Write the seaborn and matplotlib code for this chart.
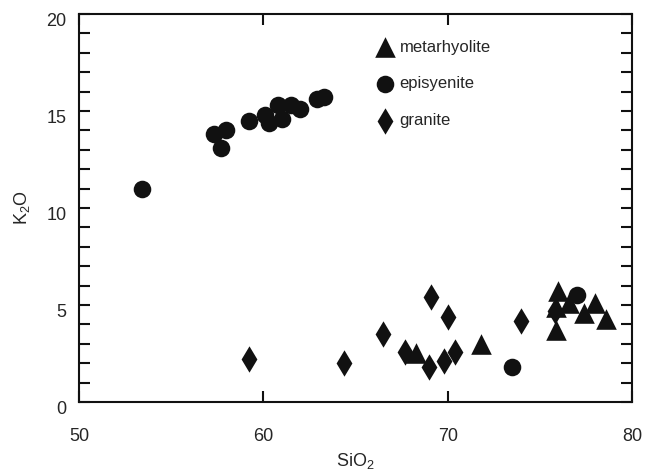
import numpy as np
import pandas as pd
import matplotlib
matplotlib.use('Agg')
import matplotlib.pyplot as plt
from matplotlib.ticker import MultipleLocator
from matplotlib.transforms import ScaledTranslation
import seaborn as sns

# values
meta_sio2 = [68.3, 71.8, 76.0, 75.9, 76.6, 77.4, 78.0, 78.6, 75.9]
meta_k2o = [2.5, 3.0, 5.7, 3.7, 5.1, 4.6, 5.1, 4.3, 4.9]

epi_sio2 = [53.4, 57.3, 58.0, 57.7, 59.2, 60.1, 60.3, 60.8, 61.0, 61.5, 62.0, 62.9, 63.3, 73.5, 77.0]
epi_k2o = [11.0, 13.8, 14.0, 13.1, 14.5, 14.8, 14.4, 15.3, 14.6, 15.3, 15.1, 15.6, 15.7, 1.8, 5.5]

gran_sio2 = [59.2, 64.4, 66.5, 67.7, 69.1, 69.0, 69.8, 70.0, 70.4, 74.0, 75.8]
gran_k2o = [2.2, 2.0, 3.5, 2.6, 5.4, 1.8, 2.1, 4.4, 2.6, 4.2, 4.7]

rock_order = ['metarhyolite', 'episyenite', 'granite']

df = pd.concat([
    pd.DataFrame({'SiO2': meta_sio2, 'K2O': meta_k2o, 'rock': 'metarhyolite'}),
    pd.DataFrame({'SiO2': epi_sio2, 'K2O': epi_k2o, 'rock': 'episyenite'}),
    pd.DataFrame({'SiO2': gran_sio2, 'K2O': gran_k2o, 'rock': 'granite'}),
])

sns.set_style('ticks')
plt.rcParams['font.family'] = ['Liberation Sans', 'DejaVu Sans']
plt.rcParams['mathtext.fontset'] = 'custom'
plt.rcParams['mathtext.rm'] = 'Liberation Sans'
plt.rcParams['mathtext.it'] = 'Liberation Sans:italic'

fig = plt.figure(figsize=(6.54, 4.71), dpi=100)
ax = fig.add_axes([0.1208, 0.1465, 0.8456, 0.8238])

mk = {'metarhyolite': '^', 'episyenite': 'o', 'granite': 'd'}
sz = {'metarhyolite': 220, 'episyenite': 160, 'granite': 180}
# granite drawn first, triangles last
for rock in ['granite', 'episyenite', 'metarhyolite']:
    sub = df[df.rock == rock]
    sns.scatterplot(x=sub.SiO2, y=sub.K2O, marker=mk[rock], s=sz[rock],
                    color='#111111', linewidth=0, label=rock, ax=ax, zorder=3)

handles, labels = ax.get_legend_handles_labels()
hmap = dict(zip(labels, handles))
ax.legend([hmap[r] for r in rock_order], rock_order, loc='upper left',
          bbox_to_anchor=(0.515, 0.955), frameon=False, fontsize=12,
          labelspacing=1.3, handletextpad=0.05, borderpad=0, handlelength=1.6)

ax.set_xlim(50, 80)
ax.set_ylim(0, 20)
ax.set_xticks([50, 60, 70, 80])
ax.set_yticks([0, 5, 10, 15, 20])
ax.yaxis.set_minor_locator(MultipleLocator(1))
ax.tick_params(axis='both', which='both', direction='in', length=8, width=1.5,
               top=True, right=True, labelsize=13, color='#111111')
ax.tick_params(axis='x', pad=19)
ax.tick_params(axis='y', pad=9)
for sp in ax.spines.values():
    sp.set_linewidth(1.5)
    sp.set_color('#111111')

# y tick labels sit a little below their ticks in the reference
shift = ScaledTranslation(0, -4 / 72, fig.dpi_scale_trans)
for lab in ax.get_yticklabels():
    lab.set_transform(lab.get_transform() + shift)

ax.set_xlabel('SiO$_2$', fontsize=13, labelpad=4)
ax.set_ylabel('K$_2$O', fontsize=13, labelpad=10)

fig.savefig('out.png', dpi=100)
